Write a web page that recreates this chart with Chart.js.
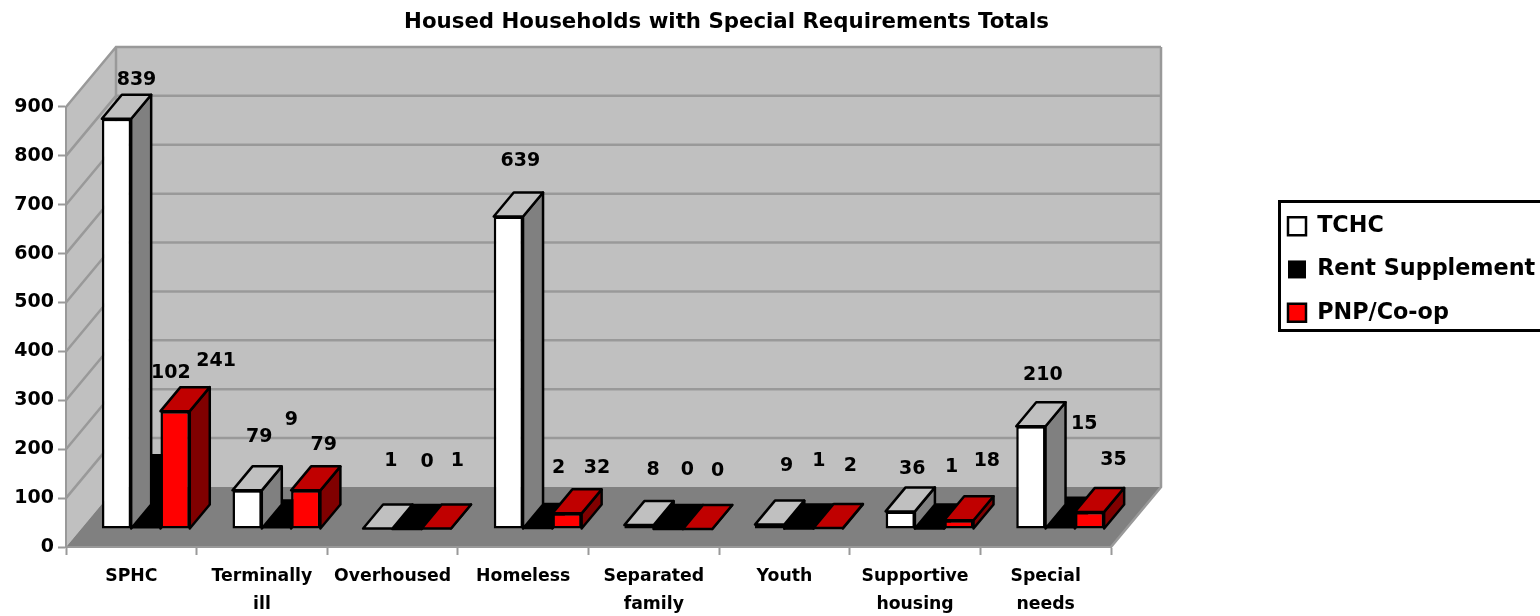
<!DOCTYPE html>
<html>
<head>
<meta charset="utf-8">
<title>Housed Households with Special Requirements Totals</title>
<script src="https://cdn.jsdelivr.net/npm/chart.js@4/dist/chart.umd.min.js"></script>
<style>
    html, body { margin: 0; padding: 0; background: #fff; overflow: hidden; }
    canvas { display: block; }
</style>
</head>
<body>
<canvas id="chart" width="1540" height="616"></canvas>
<script>
const categories = [
    "SPHC", ["Terminally", "ill"], "Overhoused", "Homeless",
    ["Separated", "family"], "Youth", ["Supportive", "housing"], ["Special", "needs"]
];

const tchc = [839, 79, 1, 639, 8, 9, 36, 210];
const rentSupplement = [102, 9, 0, 2, 0, 1, 1, 15];
const pnpCoop = [241, 79, 1, 32, 0, 2, 18, 35];

const yTicks = [0, 100, 200, 300, 400, 500, 600, 700, 800, 900];

// label offsets from the top of each bar's front face, they do not follow one rule in the original
const labelShiftX = [
    [20, 12, 13, 12, 14, 17, 12, 12],
    [25, 15, 20, 21, 19, 20, 22, 24],
    [41, 18, 21, 30, 20, 22, 28, 24]
];
const labelLift = [
    [39, 53, 67, 56, 55, 59, 42, 51],
    [106, 105, 67, 60, 59, 67, 61, 98],
    [50, 45, 67, 45, 58, 62, 59, 52]
];

const FONT = "'DejaVu Sans', sans-serif";
const WALL = "#c0c0c0";
const FLOOR = "#808080";
const LINE = "#999999";
const EDGE = 2.5;

// depth of the box and of a bar, in pixels
const boxDepth = { x: 50, y: -60 };
const barDepth = { x: 20, y: -24 };
const barShift = { x: 14.5, y: -18 };

const faces = {
    "#ffffff": { top: "#c0c0c0", side: "#808080" },
    "#000000": { top: "#000000", side: "#000000" },
    "#ff0000": { top: "#c00000", side: "#800000" }
};

// the red series has to land on top of the black side faces
const LAST_DRAWN = 2;

function poly(ctx, points, fill, stroke, width) {
    ctx.beginPath();
    points.forEach((p, i) => i ? ctx.lineTo(p[0], p[1]) : ctx.moveTo(p[0], p[1]));
    ctx.closePath();
    if (fill) {
        ctx.fillStyle = fill;
        ctx.fill();
    }
    if (stroke) {
        ctx.strokeStyle = stroke;
        ctx.lineWidth = width;
        ctx.lineJoin = "round";
        ctx.stroke();
    }
}

function drawBarFaces(chart, index) {
    const ctx = chart.ctx;
    const face = faces[chart.data.datasets[index].backgroundColor];
    chart.getDatasetMeta(index).data.forEach(bar => {
        const p = bar.getProps(["x", "y", "base", "width"]);
        const l = p.x - p.width / 2;
        const r = p.x + p.width / 2;
        const dx = barDepth.x;
        const dy = barDepth.y;
        poly(ctx, [[r, p.y], [r + dx, p.y + dy], [r + dx, p.base + dy], [r, p.base]], face.side, "#000", EDGE);
        poly(ctx, [[l, p.y], [r, p.y], [r + dx, p.y + dy], [l + dx, p.y + dy]], face.top, "#000", EDGE);
    });
}

const box3d = {
    id: "box3d",

    afterLayout(chart) {
        const legend = chart.legend;
        legend.left = 1267;
        legend.right = 1540;
        legend.top = 194;
        legend.bottom = 616;
        legend.width = 273;
        legend.height = 422;

        chart.titleBlock.left = 0;
        chart.titleBlock.right = 1453;
    },

    beforeDraw(chart) {
        const { ctx, chartArea: a, scales } = chart;
        const dx = boxDepth.x;
        const dy = boxDepth.y;

        ctx.save();
        poly(ctx, [[a.left + dx, a.top + dy], [a.right + dx, a.top + dy], [a.right + dx, a.bottom + dy], [a.left + dx, a.bottom + dy]], WALL);
        poly(ctx, [[a.left, a.top], [a.left + dx, a.top + dy], [a.left + dx, a.bottom + dy], [a.left, a.bottom]], WALL);
        poly(ctx, [[a.left, a.bottom], [a.right, a.bottom], [a.right + dx, a.bottom + dy], [a.left + dx, a.bottom + dy]], FLOOR);

        ctx.strokeStyle = LINE;
        ctx.lineWidth = 2.5;
        ctx.beginPath();
        yTicks.forEach(v => {
            if (v === 0) return;
            const y = scales.y.getPixelForValue(v);
            ctx.moveTo(a.left, y);
            ctx.lineTo(a.left + dx, y + dy);
            ctx.lineTo(a.right + dx, y + dy);
        });
        ctx.moveTo(a.left + dx, a.top + dy);
        ctx.lineTo(a.left + dx, a.bottom + dy);
        ctx.moveTo(a.right + dx, a.top + dy);
        ctx.lineTo(a.right + dx, a.bottom + dy);
        ctx.lineTo(a.right, a.bottom);
        ctx.stroke();
        ctx.restore();
    },

    beforeDatasetDraw(chart, args) {
        if (args.index === LAST_DRAWN) return false;
        chart.ctx.save();
        chart.ctx.translate(barShift.x, barShift.y);
        drawBarFaces(chart, args.index);
    },

    afterDatasetDraw(chart) {
        chart.ctx.restore();
    },

    afterDatasetsDraw(chart) {
        const ctx = chart.ctx;

        ctx.save();
        ctx.translate(barShift.x, barShift.y);
        drawBarFaces(chart, LAST_DRAWN);
        chart.getDatasetMeta(LAST_DRAWN).controller.draw();
        ctx.restore();

        ctx.save();
        ctx.font = "bold 19px " + FONT;
        ctx.fillStyle = "#000";
        ctx.textAlign = "center";
        ctx.textBaseline = "middle";
        chart.data.datasets.forEach((ds, s) => {
            chart.getDatasetMeta(s).data.forEach((bar, i) => {
                const p = bar.getProps(["x", "y"]);
                ctx.fillText(ds.data[i], p.x + barShift.x + labelShiftX[s][i], p.y + barShift.y - labelLift[s][i]);
            });
        });
        ctx.restore();
    },

    afterDraw(chart) {
        const ctx = chart.ctx;
        ctx.save();
        ctx.strokeStyle = "#000";
        ctx.lineWidth = 3;
        ctx.strokeRect(1279.5, 201.5, 270, 129);
        ctx.restore();
    }
};

function barStyle(color, border) {
    return {
        backgroundColor: color,
        borderColor: "#000000",
        borderWidth: border,
        borderSkipped: false,
        categoryPercentage: 0.673,
        barPercentage: 1
    };
}

new Chart(document.getElementById("chart"), {
    type: "bar",
    data: {
        labels: categories,
        datasets: [
            { label: "TCHC", data: tchc, ...barStyle("#ffffff", EDGE) },
            { label: "Rent Supplement", data: rentSupplement, ...barStyle("#000000", 0) },
            { label: "PNP/Co-op", data: pnpCoop, ...barStyle("#ff0000", EDGE) }
        ]
    },
    options: {
        responsive: false,
        animation: false,
        devicePixelRatio: 1,
        events: [],
        layout: {
            autoPadding: false,
            padding: { left: 0, right: 429, top: 0, bottom: 0 }
        },
        plugins: {
            tooltip: { enabled: false },
            title: {
                display: true,
                text: "Housed Households with Special Requirements Totals",
                color: "#000",
                font: { family: FONT, size: 21.3, weight: "bold", lineHeight: 1.2 },
                padding: { top: 10, bottom: 71.4 }
            },
            legend: {
                position: "chartArea",
                align: "start",
                labels: {
                    color: "#000",
                    font: { family: FONT, size: 22.3, weight: "bold" },
                    boxWidth: 18,
                    boxHeight: 18,
                    padding: 21
                }
            }
        },
        scales: {
            x: {
                afterFit: scale => { scale.height = 69; },
                border: { color: LINE, width: 2 },
                grid: { drawOnChartArea: false, color: LINE, tickColor: LINE, tickWidth: 2, tickLength: 8 },
                ticks: {
                    color: "#000",
                    autoSkip: false,
                    maxRotation: 0,
                    padding: 7,
                    font: { family: FONT, size: 17.3, weight: "bold", lineHeight: 1.63 }
                }
            },
            y: {
                min: 0,
                max: 900,
                afterFit: scale => { scale.width = 66; },
                border: { color: LINE, width: 2 },
                grid: { drawOnChartArea: false, color: LINE, tickColor: LINE, tickWidth: 2, tickLength: 8 },
                ticks: {
                    color: "#000",
                    stepSize: 100,
                    padding: 4,
                    font: { family: FONT, size: 19, weight: "bold" }
                }
            }
        }
    },
    plugins: [box3d]
});
</script>
</body>
</html>
